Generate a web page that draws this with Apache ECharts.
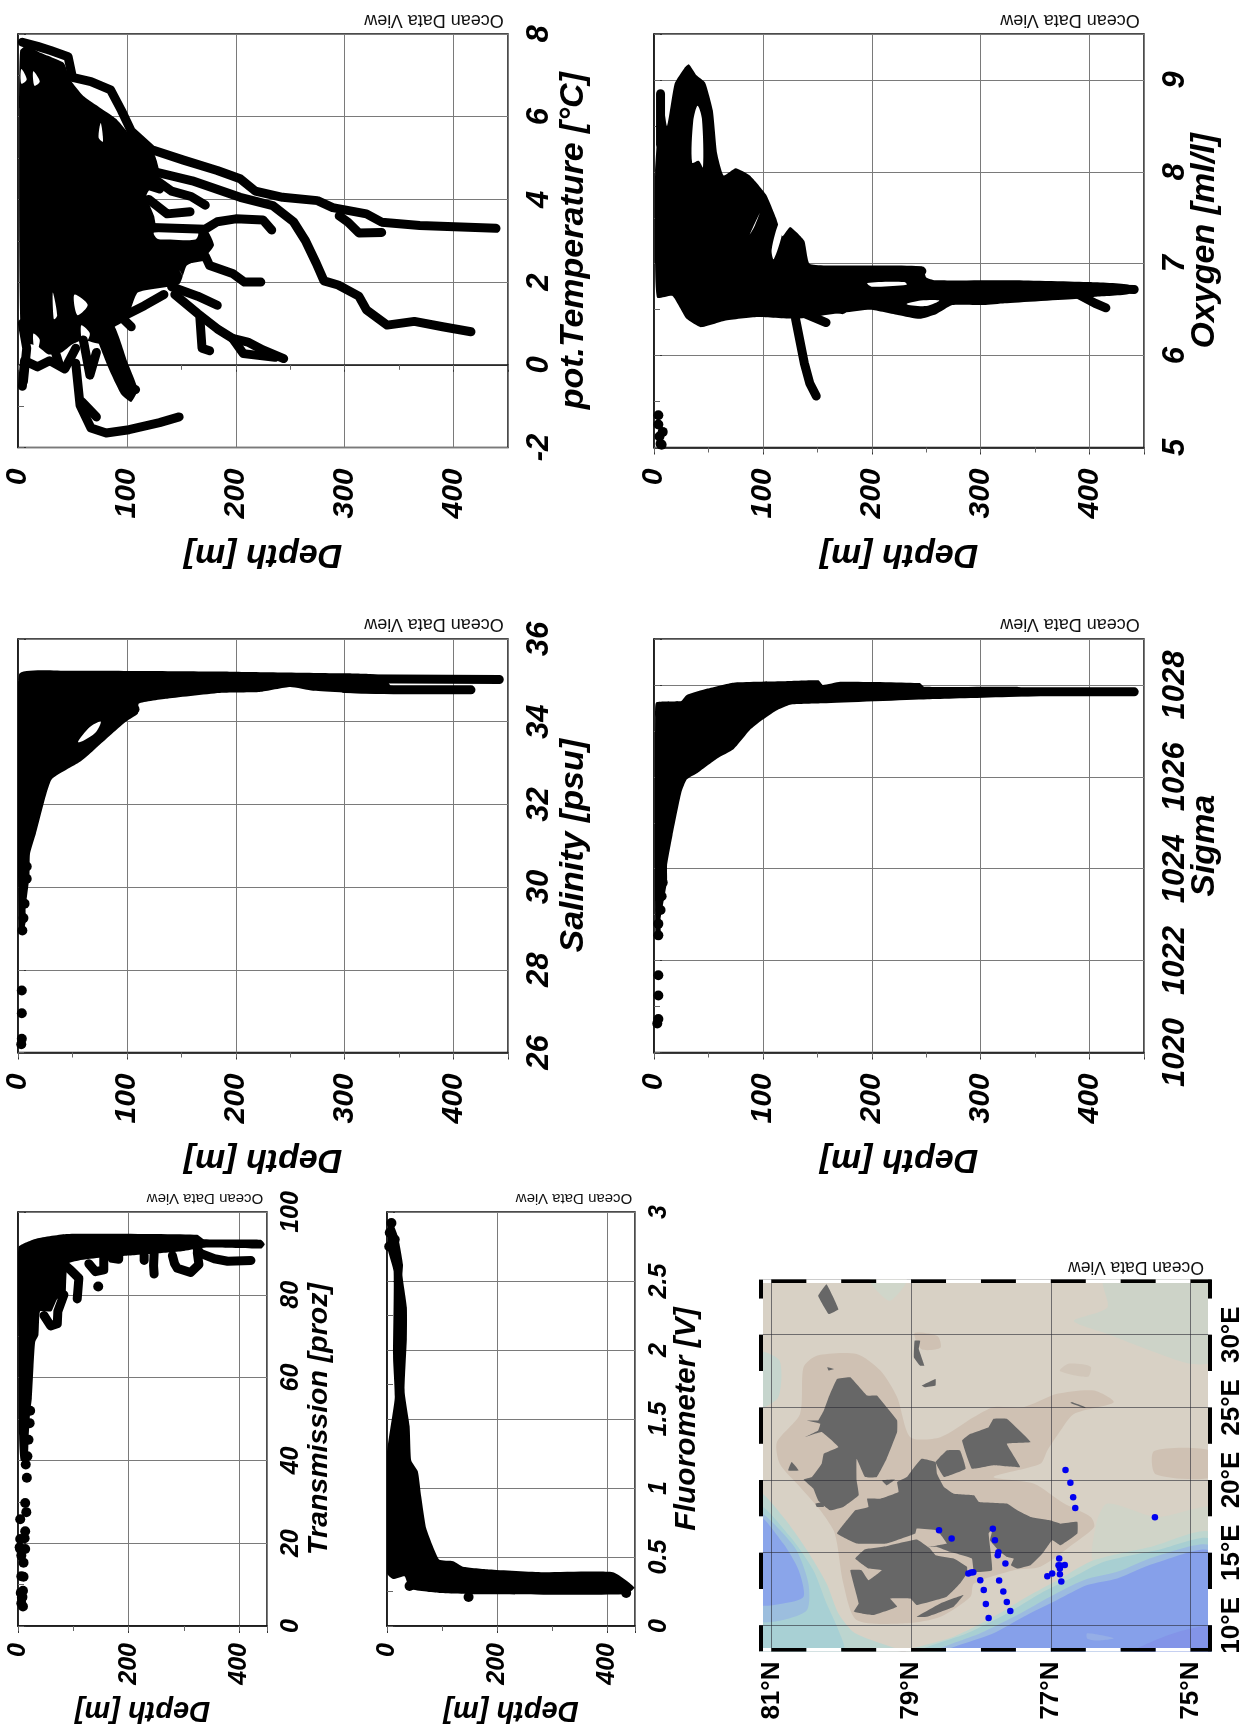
<!DOCTYPE html>
<html>
<head>
<meta charset="utf-8">
<style>html,body{margin:0;padding:0;background:#fff}#c{width:1255px;height:1730px}</style>
<script src="https://cdn.jsdelivr.net/npm/echarts@6/dist/echarts.min.js"></script>
</head>
<body>
<div id="c"></div>
<script>
// ---------- Potential temperature: [depth, value]
const tempMass = [[1,6.2],[2,7.6],[8,7.72],[20,7.55],[42,7.3],[48,6.9],[60,6.5],[90,5.95],[105,5.5],[125,5.1],[130,4.6],[118,4.1],[125,3.6],[128,3.3],[172,3.3],[180,2.9],[172,2.62],[155,2.4],[148,1.95],[110,1.75],[100,1.1],[88,0.9],[78,0.5],[60,0.6],[50,0.5],[40,0.3],[28,0.25],[18,0.45],[3,0.6]];
const tempBand = [[69,0.97],[83,-0.07],[95,-0.72],[104,-0.9],[110,-0.6],[100,0.1],[88,0.95]];
const tempHoles = [[[52,1.7],[64,1.45],[55,1.2],[52,1.4]],[[32,1.75],[36,1.2],[33,1.1]],[[14,0.75],[20,0.6],[16,0.25]],[[58,0.95],[66,0.75],[60,0.45]],[[76,5.85],[78,5.4],[74,5.5]],[[150,2.2],[156,1.95],[148,2.3]],[[115,1.35],[125,1.55],[120,1.2]],[[125,3.2],[165,3.2],[163,3.03],[140,3.03],[128,3.05]],[[14,7.1],[20,6.85],[15,6.75]],[[3,7.15],[8,6.9],[3,6.8]]];
const tempCast1 = [[4,7.8],[18,7.7],[30,7.6],[46,7.45],[50,6.95],[67,6.85],[85,6.65],[95,6.15],[104,5.65],[123,5.2],[152,4.95],[183,4.7],[204,4.5],[218,4.2],[243,4.05],[275,3.97],[289,3.8],[320,3.65],[334,3.45],[369,3.37],[439,3.3]];
const tempCast2 = [[120,4.7],[160,4.45],[204,4.05],[234,3.85],[253,3.46],[264,3.0],[274,2.45],[281,2.03],[294,1.93],[313,1.66],[320,1.33],[339,0.96],[364,1.05],[390,0.92],[416,0.8]];
const tempCast3 = [[295,3.6],[303,3.45],[313,3.19],[334,3.2]];
const tempCast4 = [[116,4.67],[141,4.2],[159,4.07],[172,3.86]];
const tempCast5 = [[120,4.0],[137,3.65],[158,3.7]];
const tempCast6 = [[123,3.32],[172,3.28],[183,3.46],[200,3.53],[225,3.5],[233,3.26]];
const tempCast7 = [[151,2.53],[172,2.63],[176,2.4],[197,2.21],[208,2.0],[223,2.0]];
const tempCast8 = [[141,1.89],[165,1.66],[183,1.44]];
const tempCast9 = [[144,1.7],[165,1.24],[183,0.87],[197,0.64],[211,0.55],[225,0.36],[244,0.15]];
const tempCast10 = [[197,0.64],[207,0.27],[236,0.18]];
const tempCast11 = [[167,1.15],[169,0.4],[176,0.34]];
const tempCast12 = [[71,1.06],[85,0.22],[99,-0.5],[108,-0.6]];
const tempCast14 = [[53,0.04],[57,-0.98],[67,-1.53],[81,-1.65],[102,-1.57],[130,-1.4],[148,-1.26]];
const tempCast15 = [[59,-0.9],[72,-1.26]];
const tempCast16 = [[60,0.6],[66,-0.25],[72,0.3]];
const tempCast17 = [[4,-0.52],[6,0.1],[18,-0.05],[29,0.1],[43,-0.1],[53,0.4]];
const tempCast18 = [[104,0.92],[95,1.15],[116,1.43],[134,1.7]];
const tempCast22 = [[4,1.0],[8,0.4],[5,-0.4]];
const tempCast23 = [[123,4.9],[100,4.5],[130,4.25]];
const tempCast24 = [[35,1.0],[32,0.5],[38,0.0]];
const tempCasts = [tempCast1,tempCast2,tempCast3,tempCast4,tempCast5,tempCast6,tempCast7,tempCast8,tempCast9,tempCast10,tempCast11,tempCast12,tempCast14,tempCast15,tempCast16,tempCast17,tempCast18,tempCast22,tempCast23,tempCast24];

// ---------- Oxygen
const oxyMass = [[1,8.0],[3,8.4],[4,8.8],[7,8.87],[12,8.5],[19,8.96],[28,9.13],[32,9.17],[39,9.05],[47,8.97],[54,8.67],[58,8.2],[64,7.96],[75,8.04],[88,7.96],[103,7.75],[112,7.5],[118,7.3],[125,7.4],[138,7.25],[143,7.0],[175,6.98],[246,6.97],[250,6.85],[258,6.82],[330,6.82],[400,6.8],[436,6.77],[436,6.67],[405,6.64],[389,6.62],[322,6.57],[303,6.55],[274,6.55],[259,6.45],[244,6.4],[225,6.44],[199,6.5],[175,6.47],[130,6.4],[95,6.42],[65,6.38],[43,6.31],[30,6.4],[17,6.65],[3,6.63],[1,7]];
const oxyHoles = [[[35,8.1],[36,8.55],[40,8.72],[44,8.58],[45,8.05],[41,8.12]],[[88,7.32],[97,7.55],[92,7.4]],[[108,7.15],[115,7.45],[118,7.35],[110,7.05]],[[196,6.79],[230,6.8],[232,6.77],[200,6.75]],[[232,6.56],[250,6.54],[262,6.6],[245,6.6]]];
const oxyCast2 = [[389,6.67],[405,6.57],[415,6.52]];
const oxyCast3 = [[130,6.4],[138,5.92],[143,5.7],[149,5.56]];
const oxyCast4 = [[140,6.45],[158,6.36]];
const oxyCast5 = [[150,6.55],[173,6.5]];
const oxyCast7 = [[6,8.3],[6,8.85]];
const oxyCast8 = [[240,6.92],[246,6.92]];
const oxyCast9 = [[400,6.73],[441,6.72]];
const oxyCasts = [oxyCast2,oxyCast3,oxyCast4,oxyCast5,oxyCast7,oxyCast8,oxyCast9];
const oxyDots = [[4,5.35],[4,5.25],[8,5.17],[5,5.12],[6,5.04],[7,5.03]];

// ---------- Salinity
const salMass = [[1,35.15],[46,35.23],[194,35.21],[300,35.17],[325,35.15],[336,35.1],[345,34.68],[271,34.75],[250,34.84],[222,34.72],[187,34.7],[138,34.56],[111,34.44],[110,34.19],[99,34.0],[85,33.68],[69,33.3],[57,33.03],[31,32.61],[24,32.06],[16.5,31.3],[11,30.8],[10.5,30.25],[7,29.5],[7,29.15],[4,28.85],[1,29]];
const salHoles = [[[55,33.51],[66,33.87],[76,34.0],[71,33.73],[60,33.54]]];
const salCast1 = [[300,35.04],[442,35.02]];
const salCast2 = [[300,34.8],[345,34.77],[416,34.77]];
const salCasts = [salCast1,salCast2];
const salDots = [[3.5,27.5],[3.5,26.95],[3.5,26.33],[3,26.2],[4,28.95],[5,29.25],[6,29.6],[8,30.2],[8,30.5],[107,34.3]];

// ---------- Sigma
const sigMass = [[1,1027.3],[2,1027.62],[25,1027.65],[30,1027.78],[49,1027.92],[73,1028.05],[117,1028.08],[151,1028.1],[155,1028],[171,1028.07],[244,1028.04],[248,1027.96],[333,1027.96],[340,1027.92],[400,1027.9],[400,1027.8],[251,1027.69],[155,1027.6],[125,1027.57],[112,1027.44],[99,1027.23],[88,1027.02],[73,1026.6],[58,1026.4],[39,1026.07],[30,1025.94],[25,1025.65],[17,1024.73],[12,1024.07],[12,1023.73],[6,1022.9],[6,1022.52],[1.5,1022.52]];
const sigCast1 = [[250,1027.85],[441,1027.85]];
const sigCasts = [sigCast1];
const sigDots = [[4,1021.68],[4,1021.24],[4,1020.73],[3,1020.63],[4,1022.55],[4,1022.8],[6,1023.1],[7,1023.4],[8,1023.7]];

// ---------- Transmission
const transMass = [[1,91.5],[34,93.6],[89,94.7],[324,94.5],[336,93.4],[439,93.3],[446,92.2],[440,91.2],[340,91.4],[300,90.6],[250,90],[200,89.5],[150,89],[110,88.3],[90,87.5],[87,83],[85,79],[71,79],[60,76],[40,76],[37,70.3],[31,68.6],[28,62.7],[25,55],[22,51.7],[19,44.9],[17,40],[5,40],[2,46],[1,70]];
const transCast1 = [[324,91],[330,90],[355,88.7],[379,88.1],[421,88.3]];
const transCast2 = [[279,89.5],[283,87.5],[288,86.4],[312,85.4],[327,87.3],[324,90.2]];
const transCast3 = [[246,90],[245,87],[246,85]];
const transCast4 = [[228,89.5],[228,88.3]];
const transCast5 = [[182,89.5],[182,88.6],[170,88.8]];
const transCast6 = [[155,89],[155,86],[140,85.6],[128,87.5]];
const transCast7 = [[107,79],[110,84],[95,86],[86,87]];
const transCast8 = [[83,80],[72,76],[71,73],[59,72.5],[47,75]];
const transCasts = [transCast1,transCast2,transCast3,transCast4,transCast5,transCast6,transCast7,transCast8];
const transDots = [[145,82],[16,35.8],[13,29.7],[15,27.5],[4,25.8],[13,22.9],[12,21.2],[13,18.6],[4,18.6],[10,15.3],[10,11.9],[9,8.5],[7,6.8],[9,4.7],[6,5.5],[8,7],[5,8],[4,21],[6,17],[3,19],[6,12],[14,39],[17,41],[19,45],[21,49],[22,52]];

// ---------- Fluorometer
const fluoMass = [[8,2.94],[20,2.82],[29,2.62],[28,2.54],[36,2.31],[36,2.08],[32,1.7],[41,1.45],[44,1.2],[56,1.12],[62,0.94],[71,0.71],[83,0.58],[95,0.48],[120,0.47],[138,0.43],[186,0.41],[283,0.39],[410,0.39],[449,0.28],[434,0.23],[174,0.23],[95,0.24],[41,0.27],[32,0.36],[11,0.34],[0,0.38],[0,1.25],[14,1.65],[11,1.95],[12,2.57],[2,2.72],[2,2.9]];
const fluoDots = [[148,0.21],[41,0.29],[434,0.24],[8,2.92],[5,2.85],[14,2.8],[4,2.75]];

// ---------- Station map: [latitude, longitude]
const stationDots = [[78.60,16.54],[78.42,15.97],[77.83,16.64],[77.80,15.86],[77.75,15.03],[77.76,14.83],[77.65,14.26],[78.18,13.57],[78.14,13.64],[78.11,13.66],[78.01,13.11],[77.96,12.43],[77.93,11.47],[77.89,10.50],[77.74,13.09],[77.68,12.33],[77.63,11.60],[77.58,10.98],[76.79,20.69],[76.72,19.82],[76.68,18.81],[76.65,18.08],[75.51,17.44],[76.88,14.60],[76.89,14.14],[76.86,14.11],[76.80,14.16],[76.87,13.91],[76.87,13.52],[76.85,13.01],[76.98,13.57],[77.05,13.38]];
const landMain = [[80.06,16.32],[79.92,17.23],[79.80,17.92],[79.61,18.15],[79.63,18.72],[79.44,18.72],[79.18,19.18],[79.20,19.86],[79.06,20.21],[78.99,20.66],[78.85,21.46],[78.65,21.24],[78.63,20.43],[78.53,19.52],[78.39,19.06],[78.10,18.95],[78.03,18.49],[77.63,18.38],[77.48,17.92],[77.29,17.46],[77.01,17.23],[76.86,17.00],[76.62,17.12],[76.62,16.32],[76.86,15.51],[76.98,15.86],[77.12,14.94],[77.29,14.14],[77.48,13.91],[77.57,14.14],[77.53,14.60],[77.63,14.71],[77.75,15.17],[77.87,15.86],[77.83,16.66],[77.89,16.32],[77.84,13.80],[78.10,13.68],[78.13,14.60],[78.44,15.06],[78.63,15.40],[78.75,15.40],[78.49,15.63],[78.63,16.54],[78.92,16.66],[78.94,16.32],[79.35,15.63],[79.78,15.63]];
const landNorthwest = [[79.80,14.60],[79.66,15.24],[79.35,15.45],[78.92,15.9],[78.73,15.29],[78.65,14.83],[78.39,14.60],[78.20,14.03],[78.20,13.57],[78.30,12.88],[78.49,11.97],[78.92,11.40],[79.01,11.85],[79.30,11.85],[79.20,11.28],[79.54,10.71],[79.82,10.94],[79.75,11.51],[79.87,13.80],[79.71,13.80],[79.61,13.11],[79.42,13.80],[79.61,13.91]];
const landForland = [[78.92,10.59],[78.58,11.51],[78.25,12.08],[78.39,11.28],[78.77,10.59]];
const landNordaust = [[80.52,22.95],[80.28,23.30],[80.04,22.27],[80.25,21.81],[80.28,21.12],[80.42,20.21],[80.54,20.03],[80.40,19.41],[80.33,18.60],[80.16,17.92],[79.97,18.15],[79.75,18.95],[79.78,19.98],[79.78,21.46],[79.66,20.21],[79.49,20.21],[79.35,21.46],[79.20,23.30],[79.20,24.10],[79.35,25.01],[79.49,25.81],[79.63,25.81],[79.87,27.07],[80.06,26.96],[80.18,25.70],[80.25,24.78],[80.33,24.10],[80.49,24.10],[80.30,23.87],[80.33,23.41]];
const landBarents = [[78.65,21.24],[78.49,22.04],[78.30,22.04],[78.22,20.78],[78.53,20.21]];
const landEdge = [[78.27,22.72],[78.15,23.18],[77.89,23.64],[77.82,24.21],[77.63,24.21],[77.29,22.61],[77.63,22.49],[77.44,20.89],[77.82,21.01],[78.13,20.78]];
const landKvit = [[80.33,32.68],[80.21,33.48],[80.04,31.76],[80.18,31.42]];
const landIsletA = [[78.95,29.59],[78.87,29.59],[78.89,29.02],[78.81,27.87],[78.87,27.87],[78.96,28.44]];
const landIsletB = [[78.85,26.50],[78.65,26.96],[78.65,26.50],[78.80,26.38]];
const landIsletC = [[80.20,27.76],[80.10,27.64],[80.18,27.53]];
const landIsletD = [[80.76,20.66],[80.71,21.24],[80.61,20.66]];
const landIsletE = [[79.42,19.98],[79.23,20.03],[79.35,19.63]];
const landIsletF = [[80.37,18.38],[80.25,18.49],[80.25,18.15],[80.35,18.15]];
const landIsletG = [[76.70,25.37],[76.50,25.01],[76.52,24.95],[76.72,25.30]];
const lands = [landMain,landNorthwest,landForland,landNordaust,landBarents,landEdge,landKvit,landIsletA,landIsletB,landIsletC,landIsletD,landIsletE,landIsletF,landIsletG];

const depthShelf = [[80.92,22.61],[80.59,24.55],[80.54,27.76],[80.35,28.56],[79.78,28.67],[79.44,27.53],[79.20,25.7],[79.01,22.95],[78.58,22.95],[78.10,24.33],[77.82,25.01],[77.39,25.01],[76.91,25.93],[76.38,26.16],[76.10,25.35],[76.67,24.55],[76.86,23.41],[77.05,22.04],[77.15,21.12],[77.82,20.21],[77.24,19.75],[76.81,18.38],[76.43,17.46],[76.38,16.77],[76.67,15.63],[77.15,14.03],[77.53,13.80],[78.10,12.88],[78.15,11.97],[78.58,10.59],[79.06,10.14],[79.78,10.37],[79.97,12.88],[80.06,15.63],[80.11,16.54],[80.30,17.92],[80.59,19.52],[80.88,21.12]];
const depthBank = [[75.52,22],[74.7,22],[74.7,20.2],[75.5,20.4]];
const depthPatchA = [[78.95,30.1],[78.62,29.9],[78.58,29.1],[78.85,29.0]];
const depthPatchB = [[76.75,28],[76.43,27.8],[76.47,27.1],[76.87,27.5]];
const depthNE = [[76.24,33.8],[74.7,33.8],[74.7,28.2],[75,28],[75.57,28.9],[76.19,30.05],[76.67,30.96],[76.19,31.88]];
const depthTop = [[79.59,33.8],[79.06,33.8],[79.3,32.33],[79.49,33.02]];
const depthNW = [[81.17,28.79],[80.88,28.2],[80.9,25.7],[81.17,25.0]];
const depthS = [[76.19,18.38],[75.48,17.46],[74.7,18.15],[74.7,16.0],[75.57,15.2],[76.38,14.3],[76.35,17]];
const bandS1 = [[79.06,8.2],[78.39,9.22],[77.82,10.59],[77.34,11.97],[76.86,13.23],[76.38,14.49],[75.57,15.40],[74.70,16.32],[74.7,8.2]];
const bandS2 = [[78.87,8.2],[78.20,9.45],[77.63,10.82],[77.15,12.2],[76.67,13.34],[76.24,14.37],[75.48,15.17],[74.70,15.86],[74.7,8.2]];
const bandS3 = [[78.63,8.2],[78.01,9.45],[77.48,10.71],[77.01,11.97],[76.53,13.11],[76.05,13.68],[75.52,14.71],[74.7,15.4],[74.7,8.2]];
const bandS4 = [[78.49,8.2],[77.82,9.45],[77.39,10.59],[76.91,11.74],[76.48,12.77],[76.05,13.23],[75.52,14.26],[74.7,15.06],[74.7,8.2]];
const bandS5 = [[75.81,8.2],[75.24,9.45],[74.7,9.9],[74.7,8.2]];
const bandSPatch = [[76.48,9.45],[76.10,9.11],[76.34,8.95],[76.48,9.1]];
const bandW1 = [[81.17,19.06],[80.83,17.46],[80.49,15.17],[80.21,12.88],[80.04,10.82],[79.80,9.45],[79.16,8.2],[81.17,8.2]];
const bandW2 = [[81.17,18.15],[80.73,16.09],[80.40,13.80],[80.21,11.51],[80.06,9.9],[79.97,8.2],[81.17,8.2]];
const bandW3 = [[81.17,17.69],[80.92,16.77],[80.64,15.17],[80.47,12.88],[80.49,11.05],[80.83,10.37],[81.17,10.37]];
const bandW4 = [[81.17,17.46],[80.83,15.63],[80.61,13.80],[80.54,11.97],[80.83,11.51],[81.17,11.51]];

const latTicks = [75,77,79,81];
const lonTicks = [10,15,20,25,30];
const frameLatBlack = [[81,80.5],[80,79.5],[79,78.5],[78,77.5],[77,76.5],[76,75.5],[75,74.7]];
const frameLatWhite = [[81.17,81],[80.5,80],[79.5,79],[78.5,78],[77.5,77],[76.5,76],[75.5,75]];
const frameLonBlack = [[8.2,10],[12.5,15],[17.5,20],[22.5,25],[27.5,30],[32.5,33.8]];
const frameLonWhite = [[10,12.5],[15,17.5],[20,22.5],[25,27.5],[30,32.5]];

// ---------- option assembly
const FONT = '"Liberation Sans", Arial, sans-serif';
const grids=[], xAxes=[], yAxes=[], series=[], graphics=[];
let ax = 0;

function polygon(points, color, xi, yi, z, smooth){
  series.push({type:'custom', xAxisIndex:xi, yAxisIndex:yi, z:z, silent:true, clip:true, animation:false,
    data: points,
    renderItem:function(params, api){
      if(params.dataIndex!==0) return;
      return {type:'polygon', shape:{points:points.map(function(p){return api.coord(p);}), smooth:smooth||0}, style:{fill:color}};
    }});
}
function panel(p){
  const gi = grids.length;
  grids.push({left:p.left, top:p.top, width:p.width, height:p.height, show:true, backgroundColor:'#fff', borderColor:'#111', borderWidth:1.5});
  const labelStyle = {color:'#000', fontFamily:FONT, fontWeight:'bold', fontStyle:'italic'};
  xAxes.push({gridIndex:gi, type:'value', min:0, max:450, interval:p.xMajor, position:'bottom',
    name:'Depth [m]', nameLocation:'middle', nameRotate:180, nameGap:p.xNameGap, nameMoveOverlap:false,
    nameTextStyle:{color:'#000', fontFamily:FONT, fontWeight:'bold', fontStyle:'italic', fontSize:p.nameSizeX, align:'center', verticalAlign:'middle'},
    axisLine:{show:true, lineStyle:{color:'#111', width:1.5}}, axisTick:{show:true, length:7, lineStyle:{color:'#333'}},
    axisLabel:Object.assign({rotate:90, align:'right', verticalAlign:'middle', margin:p.xMargin, fontSize:p.xLabelSize, hideOverlap:false,
      formatter:function(v){return (v%p.xMajor===0)?String(v):'';}}, labelStyle),
    splitLine:{show:true, lineStyle:{color:'#7a7a7a', width:1}}});
  xAxes.push({gridIndex:gi, type:'value', min:0, max:450, interval:p.xMinor, position:'bottom',
    axisLine:{show:false}, axisLabel:{show:false}, splitLine:{show:false}, axisTick:{show:true, length:5, lineStyle:{color:'#666'}}});
  yAxes.push({gridIndex:gi, type:'value', min:p.yMin, max:p.yMax, interval:p.yMajor, position:'right',
    name:p.name, nameLocation:'middle', nameRotate:90, nameGap:p.yNameGap, nameMoveOverlap:false,
    nameTextStyle:{color:'#000', fontFamily:FONT, fontWeight:'bold', fontStyle:'italic', fontSize:p.nameSizeY, align:'center', verticalAlign:'middle'},
    axisLine:{show:true, lineStyle:{color:'#111', width:1.5}}, axisTick:{show:true, length:8, lineStyle:{color:'#333'}},
    axisLabel:Object.assign({rotate:90, align:'center', verticalAlign:'middle', margin:p.yMargin, fontSize:p.yLabelSize, hideOverlap:false,
      formatter:function(v){var k=(v-p.yMin)/p.yMajor; return Math.abs(k-Math.round(k))<1e-6?String(v):'';}}, labelStyle),
    splitLine:{show:true, lineStyle:{color:'#7a7a7a', width:1}}});
  yAxes.push({gridIndex:gi, type:'value', min:p.yMin, max:p.yMax, interval:p.yMinor, position:'right',
    axisLine:{show:false}, axisLabel:{show:false}, splitLine:{show:false}, axisTick:{show:true, length:6, lineStyle:{color:'#666'}}});
  const xi = ax*1, yi = ax*1; // primary axis index of this panel
  ax += 2;
  if(p.mass) polygon(p.mass,'#000',xi,yi,2,0.15);
  (p.extra||[]).forEach(function(m){polygon(m,'#000',xi,yi,2,0.15);});
  (p.holes||[]).forEach(function(h){polygon(h,'#fff',xi,yi,3,0.3);});
  (p.casts||[]).forEach(function(c){
    series.push({type:'line', xAxisIndex:xi, yAxisIndex:yi, data:c, symbol:'none', z:4, silent:true, animation:false, clip:false,
      lineStyle:{color:'#000', width:9, cap:'round', join:'round'}});
  });
  if(p.dots) series.push({type:'scatter', xAxisIndex:xi, yAxisIndex:yi, data:p.dots, symbolSize:10, z:4, silent:true, animation:false, clip:false, itemStyle:{color:'#000', opacity:1}});
  graphics.push({type:'text', x:p.odv[0], y:p.odv[1], rotation:Math.PI, silent:true,
    style:{text:'Ocean Data View', fill:'#111', font:p.odv[2]+'px '+FONT, textAlign:'center', textVerticalAlign:'middle'}});
}

const big = {width:490, height:413.5, xMajor:100, xMinor:50, xMargin:21, xLabelSize:30, xNameGap:107, yMargin:31, yLabelSize:31, nameSizeX:34, nameSizeY:34, yNameGap:66};
const small = {top:1212, width:249, height:414, xMajor:200, xMinor:100, xMargin:17, xLabelSize:25, xNameGap:84, yMargin:24, yLabelSize:25, nameSizeX:29, yNameGap:52};

panel(Object.assign({}, big, {left:18, top:34, name:'pot.Temperature [°C]', yMin:-2, yMax:8, yMajor:2, yMinor:1, mass:tempMass, extra:[tempBand], holes:tempHoles, casts:tempCasts, odv:[434,20,18]}));
panel(Object.assign({}, big, {left:654, top:34, name:'Oxygen [ml/l]', yMin:5, yMax:9.5, yMajor:1, yMinor:0.5, yNameGap:61, mass:oxyMass, holes:oxyHoles, casts:oxyCasts, dots:oxyDots, odv:[1070,20,18]}));
panel(Object.assign({}, big, {left:18, top:639, name:'Salinity [psu]', yMin:26, yMax:36, yMajor:2, yMinor:1, mass:salMass, holes:salHoles, casts:salCasts, dots:salDots, odv:[434,624,18]}));
panel(Object.assign({}, big, {left:654, top:639, name:'Sigma', yMin:1020, yMax:1029, yMajor:2, yMinor:1, yNameGap:61, mass:sigMass, casts:sigCasts, dots:sigDots, odv:[1070,624,18]}));
panel(Object.assign({}, small, {left:18, name:'Transmission [proz]', nameSizeY:28.5, yMin:0, yMax:100, yMajor:20, yMinor:10, mass:transMass, casts:transCasts, dots:transDots, odv:[205,1198,15]}));
panel(Object.assign({}, small, {left:387, width:248, name:'Fluorometer [V]', nameSizeY:30, yMin:0, yMax:3, yMajor:0.5, yMinor:0.25, mass:fluoMass, dots:fluoDots, odv:[574,1198,15]}));

// map panel
(function(){
  const gi = grids.length, xi = ax, yi = ax;
  grids.push({left:759.5, top:1279.5, width:452, height:372, show:true, backgroundColor:'#d8d1c5', borderColor:'#999', borderWidth:1});
  const lab = {color:'#000', fontFamily:FONT, fontWeight:'bold', fontSize:26};
  xAxes.push({gridIndex:gi, type:'value', min:74.7, max:81.17, inverse:true, position:'bottom', z:5,
    axisLine:{show:false}, axisTick:{show:false, customValues:latTicks},
    axisLabel:Object.assign({customValues:latTicks, rotate:90, align:'right', verticalAlign:'middle', margin:10, hideOverlap:false, formatter:function(v){return v+'°N';}}, lab),
    splitLine:{show:true, lineStyle:{color:'rgba(40,40,50,0.6)', width:1}}});
  yAxes.push({gridIndex:gi, type:'value', min:8.2, max:33.8, position:'right', z:5,
    axisLine:{show:false}, axisTick:{show:false, customValues:lonTicks},
    axisLabel:Object.assign({customValues:lonTicks, rotate:90, align:'center', verticalAlign:'middle', margin:20, hideOverlap:false, formatter:function(v){return v+'°E';}}, lab),
    splitLine:{show:true, lineStyle:{color:'rgba(40,40,50,0.6)', width:1}}});
  ax += 1;
  [[depthS,'#d0d4c8'],[depthNE,'#cdd3c8'],[depthTop,'#d0d6ca'],[depthNW,'#c6d5cd'],[depthShelf,'#cfc1b3'],[depthBank,'#cfc1b3'],[depthPatchA,'#cfc1b3'],[depthPatchB,'#d1c6b9'],
   [bandW1,'#bcd5cf'],[bandW2,'#a8d0d4'],[bandW3,'#9cbede'],[bandW4,'#8aa5ea'],
   [bandS1,'#bed6cf'],[bandS2,'#a8cfd2'],[bandS3,'#9cbbe0'],[bandS4,'#86a0ea'],[bandS5,'#8394e8'],[bandSPatch,'#95aee6']
  ].forEach(function(a){polygon(a[0],a[1],xi,yi,1,0.25);});
  lands.forEach(function(l){polygon(l,'#676767',xi,yi,2,0.08);});
  function frame(rows,color){
    series.push({type:'custom', xAxisIndex:xi, yAxisIndex:yi, z:7, silent:true, clip:true, animation:false, data:rows,
      renderItem:function(params, api){
        var a=api.coord([api.value(0),api.value(1)]), b=api.coord([api.value(2),api.value(3)]);
        return {type:'line', shape:{x1:a[0],y1:a[1],x2:b[0],y2:b[1]}, style:{stroke:color, lineWidth:7, fill:null}};
      }});
  }
  function latRows(s){var r=[];s.forEach(function(q){r.push([q[0],8.2,q[1],8.2]);r.push([q[0],33.8,q[1],33.8]);});return r;}
  function lonRows(s){var r=[];s.forEach(function(q){r.push([81.17,q[0],81.17,q[1]]);r.push([74.7,q[0],74.7,q[1]]);});return r;}
  frame(latRows(frameLatWhite).concat(lonRows(frameLonWhite)),'#fff');
  frame(latRows(frameLatBlack).concat(lonRows(frameLonBlack)),'#000');
  series.push({type:'scatter', xAxisIndex:xi, yAxisIndex:yi, data:stationDots, symbolSize:6.5, z:8, silent:true, animation:false, itemStyle:{color:'#0000f0', opacity:1}});
  graphics.push({type:'text', x:1136, y:1267, rotation:Math.PI, silent:true,
    style:{text:'Ocean Data View', fill:'#111', font:'17.5px '+FONT, textAlign:'center', textVerticalAlign:'middle'}});
})();

const chart = echarts.init(document.getElementById('c'), null, {renderer:'canvas'});
chart.setOption({animation:false, backgroundColor:'#fff', tooltip:{show:false}, grid:grids, xAxis:xAxes, yAxis:yAxes, series:series, graphic:graphics});
</script>
</body>
</html>
